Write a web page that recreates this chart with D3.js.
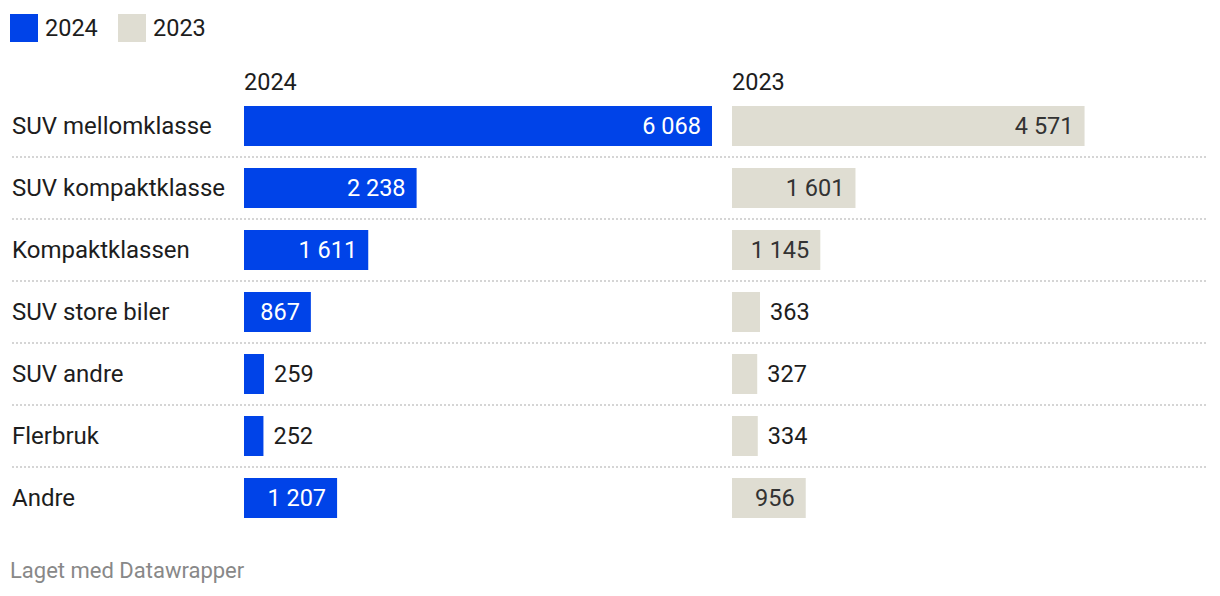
<!DOCTYPE html>
<html><head><meta charset="utf-8">
<script src="https://cdn.jsdelivr.net/npm/d3@7"></script>
<style>
body{margin:0;background:#fff;font-family:Roboto,sans-serif;}
</style></head><body>
<svg id="c" width="1220" height="596"></svg>
<script>
const categories = ["SUV mellomklasse","SUV kompaktklasse","Kompaktklassen","SUV store biler","SUV andre","Flerbruk","Andre"];
const values2024 = [6068,2238,1611,867,259,252,1207];
const values2023 = [4571,1601,1145,363,327,334,956];
const seriesNames = ["2024","2023"];
const colors = ["#0043e8","#dfddd2"];
const textInside = ["#ffffff","#333333"];

const svg = d3.select("#c");
const fontSize = 23.5;
const fmt = v => d3.format(",")(v).replace(/,/g," ");

// legend
const leg = svg.append("g");
const legX = [10,118];
seriesNames.forEach((s,i)=>{
  leg.append("rect").attr("x",legX[i]).attr("y",14).attr("width",28).attr("height",28).attr("fill",colors[i]);
  leg.append("text").attr("x",legX[i]+35).attr("y",36).attr("font-size",fontSize).attr("fill","#1d1d1d").text(s);
});

const x = d3.scaleLinear().domain([0,6068]).range([0,468]);
const colStart = [244,732];
const y = d3.scaleBand().domain(categories).range([95,95+62*7]);
const barH = 40;
const barOff = 11;

// headers
seriesNames.forEach((s,i)=>{
  svg.append("text").attr("x",colStart[i]).attr("y",90).attr("font-size",fontSize).attr("fill","#1d1d1d").text(s);
});

// separators
categories.slice(0,-1).forEach(c=>{
  const yy = y(c)+y.bandwidth();
  svg.append("line").attr("x1",12).attr("x2",1208).attr("y1",yy).attr("y2",yy)
    .attr("stroke","#c8c8c8").attr("stroke-width",1.5).attr("stroke-dasharray","2,2");
});

// row labels
svg.selectAll("text.cat").data(categories).enter().append("text").attr("class","cat")
  .attr("x",12).attr("y",c=>y(c)+barOff+barH/2).attr("dy","0.35em")
  .attr("font-size",24).attr("fill","#1d1d1d").text(c=>c);

[values2024,values2023].forEach((vals,si)=>{
  const g = svg.append("g");
  vals.forEach((v,i)=>{
    const c = categories[i];
    const w = x(v);
    const by = y(c)+barOff;
    g.append("rect").attr("x",colStart[si]).attr("y",by).attr("width",w).attr("height",barH).attr("fill",colors[si]);
    const t = g.append("text").attr("y",by+barH/2).attr("dy","0.35em").attr("font-size",fontSize).text(fmt(v));
    const tw = t.node().getComputedTextLength();
    if (tw + 16 <= w) {
      t.attr("x",colStart[si]+w-11).attr("text-anchor","end").attr("fill",textInside[si]);
    } else {
      t.attr("x",colStart[si]+w+10).attr("text-anchor","start").attr("fill","#1d1d1d");
    }
  });
});

svg.append("text").attr("x",10).attr("y",578).attr("font-size",22).attr("fill","#888").text("Laget med Datawrapper");
</script>
</body></html>
